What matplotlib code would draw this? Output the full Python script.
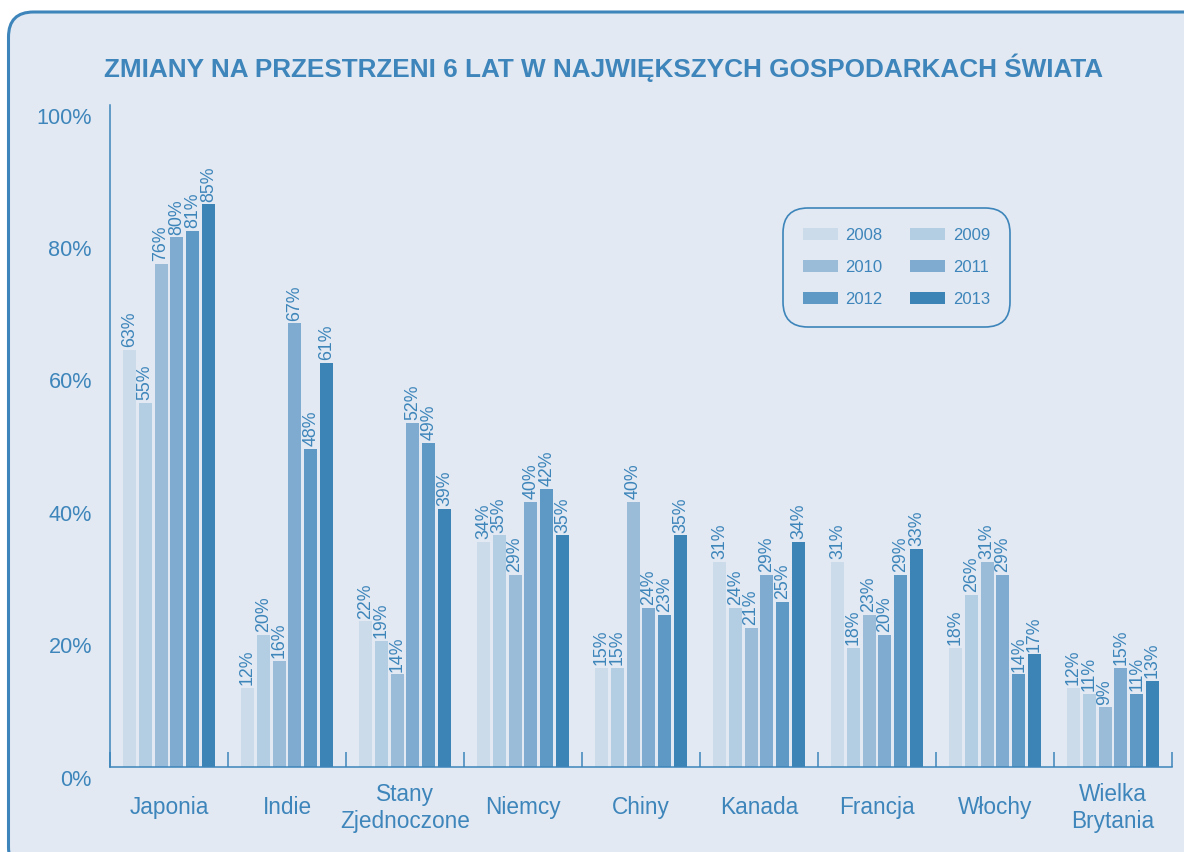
import numpy as np
import matplotlib
matplotlib.use("Agg")
from matplotlib import pyplot as plt
from matplotlib.patches import FancyBboxPatch, Patch
from matplotlib.transforms import ScaledTranslation

# data
countries = ["Japonia", "Indie", "Stany\nZjednoczone", "Niemcy", "Chiny",
             "Kanada", "Francja", "Włochy", "Wielka\nBrytania"]
years = ["2008", "2009", "2010", "2011", "2012", "2013"]
v2008 = [63, 12, 22, 34, 15, 31, 31, 18, 12]
v2009 = [55, 20, 19, 35, 15, 24, 18, 26, 11]
v2010 = [76, 16, 14, 29, 40, 21, 23, 31, 9]
v2011 = [80, 67, 52, 40, 24, 29, 20, 29, 15]
v2012 = [81, 48, 49, 42, 23, 25, 29, 14, 11]
v2013 = [85, 61, 39, 35, 35, 34, 33, 17, 13]
yticks = [0, 20, 40, 60, 80, 100]
title = "ZMIANY NA PRZESTRZENI 6 LAT W NAJWIĘKSZYCH GOSPODARKACH ŚWIATA"

series = [v2008, v2009, v2010, v2011, v2012, v2013]
colors = ["#cbdbe9", "#b3cde2", "#9bbcd8", "#7eabcf", "#5e98c5", "#3c84b5"]
blue = "#3d85ba"
bg = "#e2e9f3"

plt.rcParams['font.family'] = ['Liberation Sans', 'DejaVu Sans']

W, H = 1184, 852
fig = plt.figure(figsize=(W/100, H/100), dpi=100, facecolor="white")

# rounded panel behind everything
panel = FancyBboxPatch((0.085, -0.2), 12.2, 8.52-0.12+0.2,
                       boxstyle="round,pad=0,rounding_size=0.25",
                       transform=fig.dpi_scale_trans, facecolor=bg,
                       edgecolor=blue, linewidth=2.2, zorder=-10)
fig.patches.append(panel)

ax = fig.add_axes([110/W, (H-767)/H, (1172-110)/W, (767-105)/H])
ax.set_facecolor("none")

x = np.arange(len(countries))
width = 0.11
step = 0.134
for i, vals in enumerate(series):
    xs = x + (i - 2.5)*step
    ax.bar(xs, vals, width, color=colors[i], label=years[i], zorder=2)
    for xi, v in zip(xs, vals):
        ax.annotate(f"{v}%", (xi, v), xytext=(0, 2), textcoords="offset points",
                    rotation=90, ha="center", va="bottom", fontsize=12.8, color=blue)

ax.set_xlim(-0.5, len(countries)-0.5)
ax.set_ylim(0, 100)
ax.set_yticks(yticks)
ax.set_yticklabels([f"{t}%" for t in yticks])
ax.tick_params(axis="y", length=0, pad=13, labelsize=15.6, labelcolor=blue)
for lab in ax.get_yticklabels():
    lab.set_transform(lab.get_transform() + ScaledTranslation(0, -0.105, fig.dpi_scale_trans))

ax.set_xticks(np.arange(len(countries)+1) - 0.5)
ax.set_xticklabels([])
ax.tick_params(axis="x", direction="in", length=11, width=1.1, color=blue)

for s in ["top", "right"]:
    ax.spines[s].set_visible(False)
for s in ["left", "bottom"]:
    ax.spines[s].set_color(blue)
    ax.spines[s].set_linewidth(1.1)

for xi, name in zip(x, countries):
    ax.annotate(name, (xi, 0), xycoords=("data", "axes fraction"),
                xytext=(0, -29.5), textcoords="offset points",
                ha="center", va="center", fontsize=16.3, color=blue,
                linespacing=1.2)

fig.text(604/W, 1-68/H, title, ha="center", va="center", fontsize=18.8,
         fontweight="bold", color=blue)

# legend in column order: 2008,2010,2012 / 2009,2011,2013
order = [0, 2, 4, 1, 3, 5]
handles = [Patch(facecolor=colors[i], edgecolor="none") for i in order]
labels = [years[i] for i in order]
leg = ax.legend(handles, labels, ncol=2, loc="upper left",
                bbox_to_anchor=(783/W, 1-208/H), bbox_transform=fig.transFigure,
                fontsize=12, frameon=True, fancybox=True,
                handlelength=2.1, handleheight=0.75, handletextpad=0.45,
                columnspacing=1.65, labelspacing=1.02, borderpad=1.2,
                borderaxespad=0)
for t in leg.get_texts():
    t.set_color(blue)
frame = leg.get_frame()
frame.set_facecolor(bg)
frame.set_edgecolor(blue)
frame.set_linewidth(1.2)
frame.set_alpha(1)
frame.set_boxstyle("round,pad=0,rounding_size=1.5")

fig.savefig("out.png", dpi=100, facecolor="white")
